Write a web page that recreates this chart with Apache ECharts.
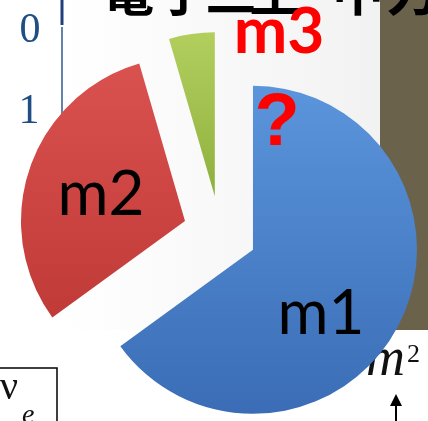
<!DOCTYPE html>
<html>
<head>
<meta charset="utf-8">
<script src="https://cdn.jsdelivr.net/npm/echarts@6/dist/echarts.min.js"></script>
<style>
  html, body { margin: 0; padding: 0; background: #ffffff; }
  #chart { width: 428px; height: 421px; }
</style>
</head>
<body>
<div id="chart"></div>
<script>
// Mass states and their shares of the pie
const names = ['m1', 'm2', 'm3'];
const shares = [65, 30.5, 4.5];
const sliceColors = [
  ['#5b95dc', '#3a6db5'],
  ['#da5250', '#c03a38'],
  ['#b2cf5e', '#8fb03e']
];
// Label placement for each slice, plus the question mark note
const labelPos = [[321, 314], [101, 195], [279, 32]];
const labelStyle = [
  { fill: '#000000', font: '62px Lato' },
  { fill: '#000000', font: '62px Lato' },
  { fill: '#ff0000', font: 'bold 64px Lato' }
];
// Heading characters along the top edge (only their lower part is visible)
const headChars = ['電', '子', '三', '生', '中', '力'];
const headX = [128, 183, 231, 275, 358, 412];

const chart = echarts.init(document.getElementById('chart'));

const graphics = [
  // slide backdrop
  { type: 'rect', z: -10, shape: { x: 62, y: 0, width: 318, height: 330 },
    style: { fill: new echarts.graphic.LinearGradient(0, 0, 1, 0, [
      { offset: 0, color: '#ffffff' }, { offset: 1, color: '#f2f2f2' }]) } },
  { type: 'rect', z: -9, shape: { x: 380, y: 0, width: 48, height: 330 },
    style: { fill: '#6b624c' } },
  // axis strip on the left
  { type: 'line', z: -8, shape: { x1: 62, y1: 0, x2: 62, y2: 25 },
    style: { stroke: '#1f3f7a', lineWidth: 3 } },
  { type: 'line', z: -8, shape: { x1: 62, y1: 27, x2: 62, y2: 115 },
    style: { stroke: '#2f5a90', lineWidth: 1.5 } },
  { type: 'text', z: -8, style: { x: 30, y: 31, text: '0', fill: '#1f4e85',
    font: '42px "Liberation Serif"', textAlign: 'center', textVerticalAlign: 'middle' } },
  { type: 'text', z: -8, style: { x: 29, y: 112, text: '1', fill: '#1f4e85',
    font: '42px "Liberation Serif"', textAlign: 'center', textVerticalAlign: 'middle' } },
  // neutrino box bottom-left
  { type: 'polyline', z: -8, shape: { points: [[0, 368], [57, 368], [57, 421]] },
    style: { stroke: '#000000', lineWidth: 1.5, fill: null } },
  { type: 'text', z: -8, style: { x: 0, y: 408, text: 'ν', fill: '#111111',
    font: '40px "Liberation Serif"', textAlign: 'left', textVerticalAlign: 'bottom' } },
  { type: 'text', z: -8, style: { x: 22, y: 430, text: 'e', fill: '#111111',
    font: 'italic 28px "Liberation Serif"', textAlign: 'left', textVerticalAlign: 'bottom' } },
  // m² and arrow bottom-right
  { type: 'text', z: -8, style: { x: 366, y: 388, text: 'm', fill: '#111111',
    font: 'italic 54px "Liberation Serif"', textAlign: 'left', textVerticalAlign: 'bottom' } },
  { type: 'text', z: -8, style: { x: 407, y: 368, text: '2', fill: '#111111',
    font: '26px "Liberation Serif"', textAlign: 'left', textVerticalAlign: 'bottom' } },
  { type: 'line', z: -8, shape: { x1: 396, y1: 402, x2: 396, y2: 421 },
    style: { stroke: '#000000', lineWidth: 2 } },
  { type: 'polygon', z: -8, shape: { points: [[396, 394], [390, 406], [402, 406]] },
    style: { fill: '#000000' } }
];

headChars.forEach(function (ch, i) {
  graphics.push({ type: 'text', z: -7, style: { x: headX[i], y: 17, text: ch,
    fill: '#000000', font: 'bold 52px "Noto Sans CJK SC"',
    textAlign: 'center', textVerticalAlign: 'bottom' } });
});

names.forEach(function (n, i) {
  graphics.push({ type: 'text', z: 20, style: Object.assign({ x: labelPos[i][0], y: labelPos[i][1],
    text: n, textAlign: 'center', textVerticalAlign: 'middle' }, labelStyle[i]) });
});
graphics.push({ type: 'text', z: 20, style: { x: 277, y: 125, text: '?', fill: '#ff0000',
  font: 'bold 74px "Liberation Sans"', textAlign: 'center', textVerticalAlign: 'middle' } });

chart.setOption({
  animation: false,
  backgroundColor: '#ffffff',
  graphic: { elements: graphics },
  series: [{
    type: 'pie',
    z: 5,
    center: [220, 233],
    radius: 164,
    startAngle: 90,
    clockwise: true,
    selectedMode: 'multiple',
    selectedOffset: 37,
    label: { show: false },
    labelLine: { show: false },
    emphasis: { disabled: true },
    data: names.map(function (n, i) {
      return {
        name: n,
        value: shares[i],
        selected: true,
        itemStyle: {
          color: new echarts.graphic.LinearGradient(0, 0, 0, 1, [
            { offset: 0, color: sliceColors[i][0] },
            { offset: 1, color: sliceColors[i][1] }])
        }
      };
    })
  }]
});
</script>
</body>
</html>
